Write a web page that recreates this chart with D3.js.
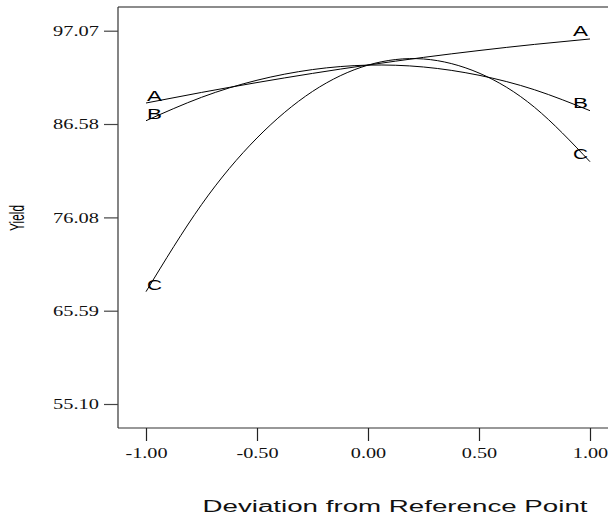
<!DOCTYPE html>
<html>
<head>
<meta charset="utf-8">
<script src="https://cdn.jsdelivr.net/npm/d3@7"></script>
<style>
  html, body { margin: 0; padding: 0; background: #fff; }
  svg { display: block; }
</style>
</head>
<body>
<svg id="chart" width="608" height="514"></svg>
<script>
// Perturbation plot: response (Yield) against deviation of each factor from the reference point
const deviation = [-1, -0.75, -0.5, -0.25, 0, 0.25, 0.5, 0.75, 1];
const factorA = [88.94, 90.13, 91.24, 92.27, 93.21, 94.07, 94.84, 95.53, 96.14];
const factorB = [86.95, 89.58, 91.50, 92.70, 93.20, 92.99, 92.06, 90.43, 88.08];
const factorC = [67.73, 77.51, 85.01, 90.24, 93.20, 93.89, 92.31, 88.46, 82.34];
const seriesNames = ["A", "B", "C"];
const xTicks = [-1, -0.5, 0, 0.5, 1];
const yTicks = [55.10, 65.59, 76.08, 86.58, 97.07];

const svg = d3.select("#chart");

// frame of the plotting region
const frame = { left: 118, right: 640, top: 7, bottom: 428 };
const x = d3.scaleLinear().domain([-1, 1]).range([146, 590]);
const y = d3.scaleLinear().domain([55.10, 97.07]).range([404, 30.7]);

// two decimals with a plain hyphen for negatives
const fmt = d => d.toFixed(2);

// stretch text horizontally by a factor
function stretch(sel, k) {
  sel.each(function () {
    const w = this.getComputedTextLength();
    d3.select(this).attr("textLength", w * k).attr("lengthAdjust", "spacingAndGlyphs");
  });
}

// frame lines
svg.append("line")
  .attr("x1", frame.left).attr("x2", frame.right)
  .attr("y1", frame.top).attr("y2", frame.top)
  .attr("stroke", "#666").attr("stroke-width", 1.3);
svg.append("line")
  .attr("x1", frame.left).attr("x2", frame.right)
  .attr("y1", frame.bottom).attr("y2", frame.bottom)
  .attr("stroke", "#333").attr("stroke-width", 1.2);
svg.append("line")
  .attr("x1", frame.left).attr("x2", frame.left)
  .attr("y1", frame.top).attr("y2", frame.bottom)
  .attr("stroke", "#333").attr("stroke-width", 1.2);

// y axis
const yAxis = svg.append("g")
  .attr("transform", `translate(${frame.left},0)`)
  .call(d3.axisLeft(y).tickValues(yTicks).tickSize(14).tickPadding(5).tickFormat(fmt));
yAxis.select(".domain").remove();
yAxis.selectAll(".tick line").attr("stroke", "#444").attr("stroke-width", 1.2);
yAxis.selectAll(".tick text")
  .attr("font-family", "'Liberation Serif', 'Times New Roman', serif")
  .attr("font-size", 15).attr("fill", "#111")
  .call(stretch, 1.36);

// x axis
const xAxis = svg.append("g")
  .attr("transform", `translate(0,${frame.bottom})`)
  .call(d3.axisBottom(x).tickValues(xTicks).tickSize(13).tickPadding(6).tickFormat(fmt));
xAxis.select(".domain").remove();
xAxis.selectAll(".tick line").attr("stroke", "#222").attr("stroke-width", 1.2);
xAxis.selectAll(".tick text")
  .attr("font-family", "'Liberation Serif', 'Times New Roman', serif")
  .attr("font-size", 15).attr("fill", "#111")
  .call(stretch, 1.35);

// axis titles
svg.append("text")
  .attr("x", 395).attr("y", 512)
  .attr("text-anchor", "middle")
  .attr("font-family", "'Liberation Sans', Arial, sans-serif")
  .attr("font-size", 16).attr("fill", "#111")
  .text("Deviation from Reference Point")
  .attr("textLength", 385).attr("lengthAdjust", "spacingAndGlyphs");

svg.append("text")
  .attr("transform", "translate(24,218) rotate(-90)")
  .attr("text-anchor", "middle")
  .attr("font-family", "'Liberation Sans', Arial, sans-serif")
  .attr("font-size", 21).attr("fill", "#000")
  .text("Yield")
  .attr("textLength", 26).attr("lengthAdjust", "spacingAndGlyphs");

// response curves
const seriesValues = [factorA, factorB, factorC];
const line = d3.line()
  .x(d => x(d[0]))
  .y(d => y(d[1]))
  .curve(d3.curveNatural);

const series = seriesNames.map((name, i) => ({
  name,
  points: deviation.map((dv, j) => [dv, seriesValues[i][j]])
}));

svg.append("g").selectAll("path")
  .data(series)
  .join("path")
  .attr("d", d => line(d.points))
  .attr("fill", "none")
  .attr("stroke", "#000")
  .attr("stroke-width", 1);

// curve labels at both ends
const labelFont = "'Liberation Sans', Arial, sans-serif";
series.forEach(s => {
  const first = s.points[0];
  const last = s.points[s.points.length - 1];
  svg.append("text")
    .attr("x", x(first[0]) + 1).attr("y", y(first[1]) - 2)
    .attr("font-family", labelFont).attr("font-size", 14).attr("fill", "#000")
    .text(s.name)
    .attr("textLength", 15).attr("lengthAdjust", "spacingAndGlyphs");
  svg.append("text")
    .attr("x", x(last[0]) - 17).attr("y", y(last[1]) - 3)
    .attr("font-family", labelFont).attr("font-size", 14).attr("fill", "#000")
    .text(s.name)
    .attr("textLength", 15).attr("lengthAdjust", "spacingAndGlyphs");
});
</script>
</body>
</html>
